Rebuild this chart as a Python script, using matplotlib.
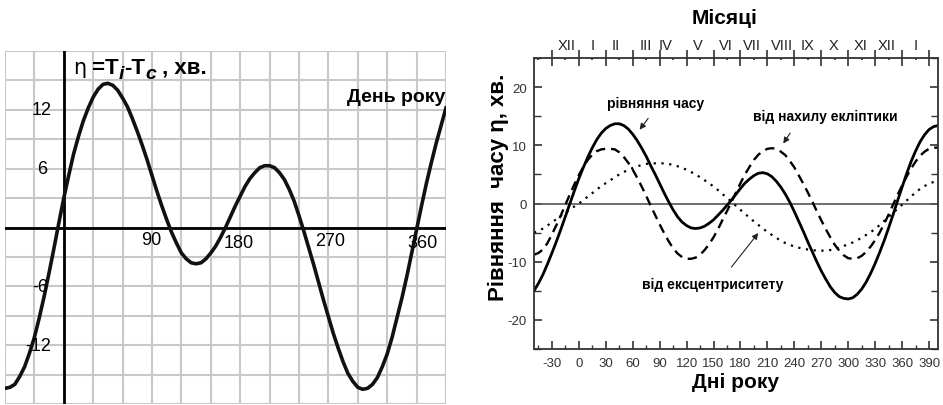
import numpy as np
import matplotlib
matplotlib.use("Agg")
from matplotlib import pyplot as plt
from matplotlib import transforms

plt.rcParams["font.family"] = ["Liberation Sans", "DejaVu Sans"]
plt.rcParams["axes.unicode_minus"] = False

# left panel: equation of time on a grid, minutes, every 5 days
days_left = np.arange(-60, 391, 5)
eot_left = [
    -16.4, -16.3, -16.0, -15.2, -14.2, -12.8, -11.2, -9.2, -7.0, -4.6,
    -2.1, 0.5, 3.0, 5.3, 7.5, 9.3, 10.9, 12.2, 13.3, 14.1,
    14.6, 14.7, 14.5, 14.0, 13.2, 12.3, 11.1, 9.8, 8.4, 6.9,
    5.3, 3.7, 2.2, 0.8, -0.5, -1.6, -2.6, -3.2, -3.6, -3.7,
    -3.6, -3.2, -2.6, -1.9, -1.0, 0.0, 1.1, 2.2, 3.2, 4.2,
    5.0, 5.6, 6.1, 6.3, 6.3, 6.1, 5.6, 4.9, 3.9, 2.7,
    1.2, -0.4, -2.1, -3.8, -5.6, -7.4, -9.1, -10.8, -12.3, -13.7,
    -14.9, -15.7, -16.3, -16.5, -16.4, -16.0, -15.3, -14.2, -12.9, -11.2,
    -9.2, -7.2, -5.0, -2.6, -0.2, 2.2, 4.5, 6.6, 8.6, 10.4,
    12.2,
]
left_xtick_labels = {"90": (89, -1.2), "180": (178, -1.5), "270": (272, -1.3), "360": (366, -1.5)}
left_ytick_labels = {"12": (-23, 12), "6": (-22, 6), "-6": (-24, -6), "-12": (-26, -12)}

# right panel: equation of time and its two components, every 5 days
days_right = np.arange(-50, 401, 5)
eot_right = [
    -15.0, -13.7, -12.2, -10.4, -8.5, -6.5, -4.4, -2.2, 0.0, 2.2,
    4.3, 6.2, 8.0, 9.6, 11.0, 12.1, 12.9, 13.4, 13.7, 13.7,
    13.4, 12.8, 11.9, 10.8, 9.5, 8.1, 6.5, 5.0, 3.4, 1.8,
    0.3, -1.1, -2.3, -3.2, -3.8, -4.2, -4.3, -4.2, -3.9, -3.4,
    -2.8, -2.0, -1.2, -0.3, 0.6, 1.6, 2.6, 3.5, 4.2, 4.8,
    5.2, 5.3, 5.1, 4.6, 3.8, 2.8, 1.6, 0.2, -1.4, -3.1,
    -4.8, -6.6, -8.3, -10.0, -11.6, -13.0, -14.3, -15.3, -16.0, -16.3,
    -16.4, -16.2, -15.6, -14.7, -13.5, -12.0, -10.3, -8.4, -6.4, -4.2,
    -1.9, 0.5, 2.8, 5.1, 7.2, 9.0, 10.6, 11.8, 12.7, 13.2,
    13.4,
]
obliquity = [
    -8.8, -8.5, -7.9, -6.8, -5.3, -3.7, -2.0, -0.2, 1.6, 3.3,
    4.9, 6.3, 7.5, 8.4, 9.0, 9.3, 9.4, 9.4, 9.3, 8.8,
    8.0, 7.0, 5.8, 4.4, 2.9, 1.3, -0.4, -2.0, -3.6, -5.1,
    -6.5, -7.7, -8.6, -9.2, -9.5, -9.5, -9.3, -8.8, -8.0, -7.0,
    -5.8, -4.4, -2.8, -1.3, 0.3, 1.9, 3.5, 5.0, 6.3, 7.5,
    8.4, 9.0, 9.4, 9.5, 9.4, 8.9, 8.3, 7.3, 6.2, 4.8,
    3.4, 1.9, 0.3, -1.3, -2.9, -4.4, -5.8, -7.1, -8.1, -8.9,
    -9.4, -9.5, -9.4, -9.0, -8.3, -7.4, -6.3, -5.0, -3.5, -1.9,
    -0.2, 1.5, 3.1, 4.6, 6.0, 7.2, 8.2, 8.9, 9.4, 9.6,
    9.6,
]
eccentricity = [
    -5.0, -4.7, -4.3, -3.8, -3.2, -2.7, -2.1, -1.6, -1.0, -0.5,
    0.0, 0.6, 1.2, 1.8, 2.4, 3.0, 3.5, 4.0, 4.5, 5.0,
    5.4, 5.8, 6.1, 6.4, 6.6, 6.8, 6.9, 6.9, 6.9, 6.9,
    6.8, 6.6, 6.4, 6.1, 5.8, 5.4, 5.0, 4.5, 4.0, 3.5,
    2.9, 2.3, 1.6, 1.0, 0.3, -0.4, -1.1, -1.8, -2.4, -3.1,
    -3.7, -4.3, -4.9, -5.4, -5.9, -6.4, -6.8, -7.1, -7.4, -7.6,
    -7.8, -7.9, -8.0, -8.1, -8.1, -8.1, -8.0, -7.8, -7.6, -7.3,
    -7.0, -6.7, -6.3, -5.9, -5.4, -4.9, -4.4, -3.7, -3.0, -2.3,
    -1.6, -0.9, -0.2, 0.5, 1.2, 1.9, 2.5, 3.0, 3.4, 3.7,
    4.0,
]
month_pos = [-14, 15, 41, 74, 97, 132, 164, 193, 226, 255, 284, 314, 343, 375]
month_names = ["XII", "I", "II", "III", "IV", "V", "VI", "VII", "VIII", "IX", "X", "XI", "XII", "I"]

W, H = 943, 406
fig = plt.figure(figsize=(W / 100, H / 100), dpi=100)
renderer = fig.canvas.get_renderer()

# ---- left panel
axl = fig.add_axes([5 / W, 1 / H, 441 / W, 353 / H])
axl.set_xlim(-60, 390)
axl.set_ylim(-18, 18)
axl.set_xticks(np.arange(-60, 391, 30))
axl.set_yticks(np.arange(-18, 19, 3))
axl.grid(True, color="#c8c8c8", lw=1.5)
axl.tick_params(length=0, labelbottom=False, labelleft=False)
for s in axl.spines.values():
    s.set_visible(False)
axl.axhline(0, color="black", lw=2)
axl.axvline(0, color="black", lw=2)
axl.plot(days_left, eot_left, color="#111111", lw=2.6)
for lab, (x, y) in left_xtick_labels.items():
    axl.text(x, y, lab, ha="center", va="center", fontsize=13)
for lab, (x, y) in left_ytick_labels.items():
    axl.text(x, y, lab, ha="center", va="center", fontsize=13)
axl.text(389, 13.4, "День року", ha="right", va="center", fontsize=14, fontweight="bold")

# formula label, built piece by piece on one baseline
parts = [
    ("η", dict(fontsize=15, family="DejaVu Sans"), 0),
    (" =T", dict(fontsize=16, fontweight="bold"), 0),
    ("i", dict(fontsize=14, fontweight="bold", style="italic"), -4),
    ("-T", dict(fontsize=16, fontweight="bold"), 0),
    ("c", dict(fontsize=14, fontweight="bold", style="italic"), -4),
    (" , хв.", dict(fontsize=16, fontweight="bold"), 0),
]
x0, y0 = 9.4, 15.8
for s, kw, dy in parts:
    tr = transforms.offset_copy(axl.transData, fig=fig, y=dy, units="points")
    t = axl.text(x0, y0, s, ha="left", va="baseline", transform=tr, **kw)
    bb = t.get_window_extent(renderer)
    x0 = axl.transData.inverted().transform((bb.x1, 0))[0]

# ---- right panel
axr = fig.add_axes([534 / W, 56 / H, 404 / W, 291 / H])
axr.set_xlim(-50, 400)
axr.set_ylim(-25, 25)
axr.axhline(0, color="#555555", lw=1.2)
axr.plot(days_right, eccentricity, color="black", lw=1.6, ls=(0, (1, 2.5)))
axr.plot(days_right, obliquity, color="black", lw=1.7, ls=(0, (4, 2.5)))
axr.plot(days_right, eot_right, color="black", lw=2)

axr.set_xticks(np.arange(-30, 391, 30))
axr.set_xticks(np.arange(-45, 400, 15), minor=True)
axr.set_yticks(np.arange(-20, 21, 10))
axr.set_yticks(np.arange(-25, 26, 5), minor=True)
axr.tick_params(axis="x", which="both", direction="in", top=False, colors="#333333",
                labelsize=9.5, pad=6)
axr.tick_params(axis="x", which="major", length=6, width=1.2)
axr.tick_params(axis="x", which="minor", length=3, width=1)
axr.tick_params(axis="y", which="both", direction="in", left=True, right=True,
                colors="#333333", labelsize=9.5, pad=5)
axr.tick_params(axis="y", which="major", length=6, width=1.2)
axr.tick_params(axis="y", which="minor", length=5, width=1)
for s in axr.spines.values():
    s.set_color("#333333")
    s.set_linewidth(1.3)

top = axr.secondary_xaxis("top")
top.set_xticks(np.arange(-30, 391, 30))
top.set_xticks(np.arange(-45, 400, 15), minor=True)
top.tick_params(which="major", direction="inout", length=11, width=1.2, colors="#333333",
                labeltop=False)
top.tick_params(which="minor", direction="in", length=1.5, width=1.2, colors="#333333")
top.spines["top"].set_visible(False)

months = axr.secondary_xaxis("top")
months.set_xticks(month_pos, month_names)
months.tick_params(length=0, pad=4, labelsize=10.5, colors="#222222")
months.spines["top"].set_visible(False)

axr.set_xlabel("Дні року", fontsize=15, fontweight="bold", labelpad=2)
fig.text(725 / W, 1 - 18 / H, "Місяці", ha="center", va="center", fontsize=15, fontweight="bold")
fig.text(498 / W, 1 - 187 / H, "Рівняння  часу η, хв.", ha="center", va="center",
         rotation=90, fontsize=16, fontweight="bold")

arrow = dict(arrowstyle="-|>", color="#222222", lw=0.8, mutation_scale=9)
axr.text(85, 17.3, "рівняння часу", fontsize=10, fontweight="bold", ha="center", va="center")
axr.annotate("", xy=(65.8, 12.3), xytext=(79, 15.0), arrowprops=arrow)
axr.text(274, 15.0, "від нахилу екліптики", fontsize=10, fontweight="bold",
         ha="center", va="center")
axr.annotate("", xy=(226, 9.9), xytext=(237, 12.5), arrowprops=arrow)
axr.text(149, -13.8, "від ексцентриситету", fontsize=10, fontweight="bold",
         ha="center", va="center")
axr.annotate("", xy=(201.7, -4.7), xytext=(168, -11.3), arrowprops=arrow)

fig.savefig("out.png", dpi=100)
